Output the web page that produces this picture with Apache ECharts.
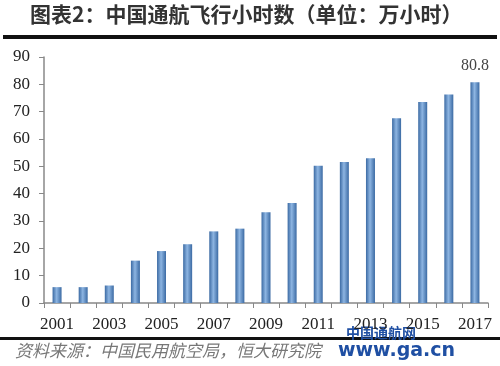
<!DOCTYPE html>
<html><head><meta charset="utf-8">
<script src="https://cdn.jsdelivr.net/npm/echarts@6/dist/echarts.min.js"></script>
<style>html,body{margin:0;padding:0;background:#fff}#c{width:500px;height:366px}</style>
</head><body><div id="c"></div>
<script>
var years = ['2001','2002','2003','2004','2005','2006','2007','2008','2009','2010','2011','2012','2013','2014','2015','2016','2017'];
var hours = [5.8, 5.8, 6.4, 15.5, 19.0, 21.5, 26.2, 27.2, 33.2, 36.6, 50.2, 51.6, 53.0, 67.6, 73.5, 76.3, 80.8];
var yTicks = [0, 10, 20, 30, 40, 50, 60, 70, 80, 90];
var titleText = '图表2：中国通航飞行小时数（单位：万小时）';
var sourceText = '资料来源：中国民用航空局，恒大研究院';

var chart = echarts.init(document.getElementById('c'));
var barColor = new echarts.graphic.LinearGradient(0, 0, 1, 0, [
  {offset: 0, color: '#3b6aa3'},
  {offset: 0.45, color: '#8db5e2'},
  {offset: 1, color: '#3b6aa3'}
]);
chart.setOption({
  animation: false,
  backgroundColor: '#fff',
  grid: {left: 44, right: 12, top: 57, bottom: 63},
  xAxis: {
    type: 'category',
    data: years,
    axisLine: {lineStyle: {color: '#888', width: 1.5}},
    axisTick: {show: true, interval: 0, length: 5, lineStyle: {color: '#888'}},
    axisLabel: {interval: 1, margin: 13, color: '#222', fontFamily: 'Liberation Serif', fontSize: 17}
  },
  yAxis: {
    type: 'value', min: 0, max: 90, interval: 10,
    axisLine: {show: true, lineStyle: {color: '#888', width: 1.5}},
    axisTick: {show: true, length: 5, lineStyle: {color: '#888'}},
    splitLine: {show: false},
    axisLabel: {margin: 14, color: '#222', fontFamily: 'Liberation Serif', fontSize: 17,
      formatter: function (v) { return yTicks.indexOf(v) >= 0 ? String(v) : ''; }}
  },
  series: [{
    type: 'bar',
    data: hours.map(function (v, i) {
      return i === hours.length - 1
        ? {value: v, label: {show: true, position: 'top', distance: 8, color: '#444', fontFamily: 'Liberation Serif', fontSize: 16}}
        : v;
    }),
    barWidth: 9,
    itemStyle: {color: barColor}
  }],
  graphic: [
    {type: 'text', left: 30, top: 4, style: {text: titleText, fontFamily: 'Noto Sans CJK SC', fontSize: 21, fontWeight: 'bold', fill: '#333'}},
    {type: 'rect', shape: {x: 3, y: 35, width: 494, height: 4}, style: {fill: '#111'}},
    {type: 'rect', shape: {x: 0, y: 337, width: 500, height: 3}, style: {fill: '#111'}},
    {type: 'text', left: 15, top: 342, style: {text: sourceText, fontFamily: 'Noto Sans CJK SC', fontSize: 17, fontStyle: 'italic', fill: '#777'}},
    {type: 'text', left: 346, top: 326, style: {text: '中国通航网', fontFamily: 'Noto Sans CJK SC', fontSize: 14, fontWeight: 'bold', fill: '#1f4fa3'}},
    {type: 'text', left: 338, top: 342, style: {text: 'www.ga.cn', fontFamily: 'DejaVu Sans', fontSize: 19, fontWeight: 'bold', fill: '#1f4fa3'}}
  ]
});
</script></body></html>
